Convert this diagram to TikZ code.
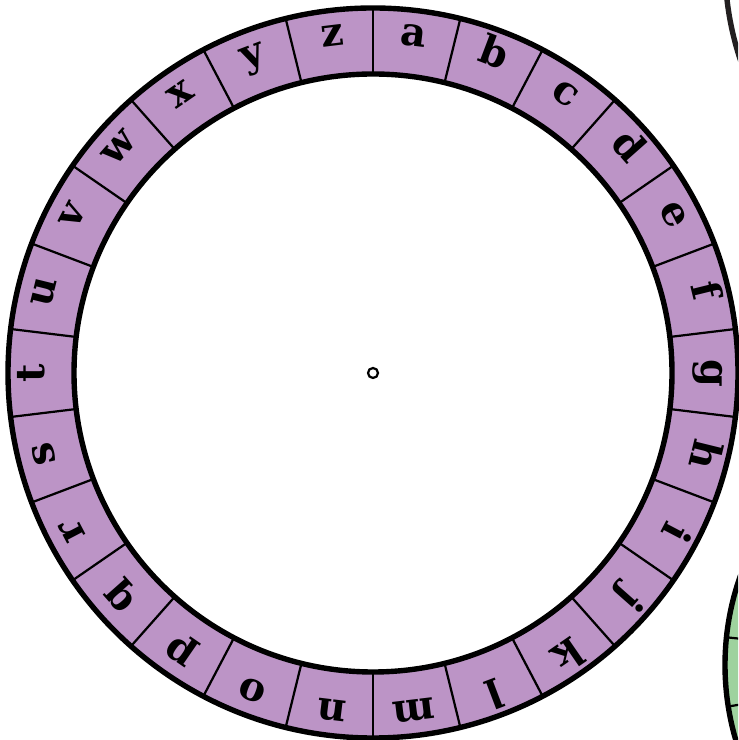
\documentclass[tikz,border=0pt]{standalone}
\usepackage{fontspec}
\setmainfont{DejaVu Serif}
\definecolor{wheelpurple}{RGB}{188,148,198}
\definecolor{wheelgreen}{RGB}{158,210,158}
\definecolor{rimdark}{RGB}{35,31,32}

\begin{document}
\begin{tikzpicture}[
    x=0.03cm, y=0.03cm,
    letternode/.style={font=\fontsize{34}{36}\selectfont\bfseries, inner sep=0pt, text height=1.5ex, text depth=0.5ex},
    rim/.style={line width=4.6pt},
    divider/.style={line width=1.9pt}
]
    \useasboundingbox (0,0) rectangle (738,740);

    % neighbouring wheels, cut by the page edge
    \begin{scope}
        \clip (0,0) rectangle (738,740);
        \draw[rimdark, rim, fill=white] (1025,775) circle (300);
        \fill[wheelgreen] (990,75) circle (265);
        \foreach \a in {129,144,...,234}
            \draw[divider] (990,75) ++(\a:200) -- ++(\a:65);
        \draw[rim] (990,75) circle (265);
    \end{scope}

    % letter wheel
    \coordinate (hub) at (373,367);
    \fill[wheelpurple, even odd rule] (hub) circle (365) circle (299);
    \foreach \k in {0,...,25}
        \draw[divider] ([shift={(90-\k*360/26:299)}]hub) -- ([shift={(90-\k*360/26:365)}]hub);
    \draw[rim] (hub) circle (365);
    \draw[rim] (hub) circle (299);

    \foreach \ch [count=\i from 0] in {a,b,c,d,e,f,g,h,i,j,k,l,m,n,o,p,q,r,s,t,u,v,w,x,y,z} {
        \pgfmathsetmacro{\ang}{90-(\i+0.5)*360/26}
        \node[letternode, rotate=\ang-90] (let-\ch) at ([shift={(\ang:332)}]hub) {\ch};
    }

    \draw[line width=1.9pt] (hub) circle (5);

\end{tikzpicture}
\end{document}
